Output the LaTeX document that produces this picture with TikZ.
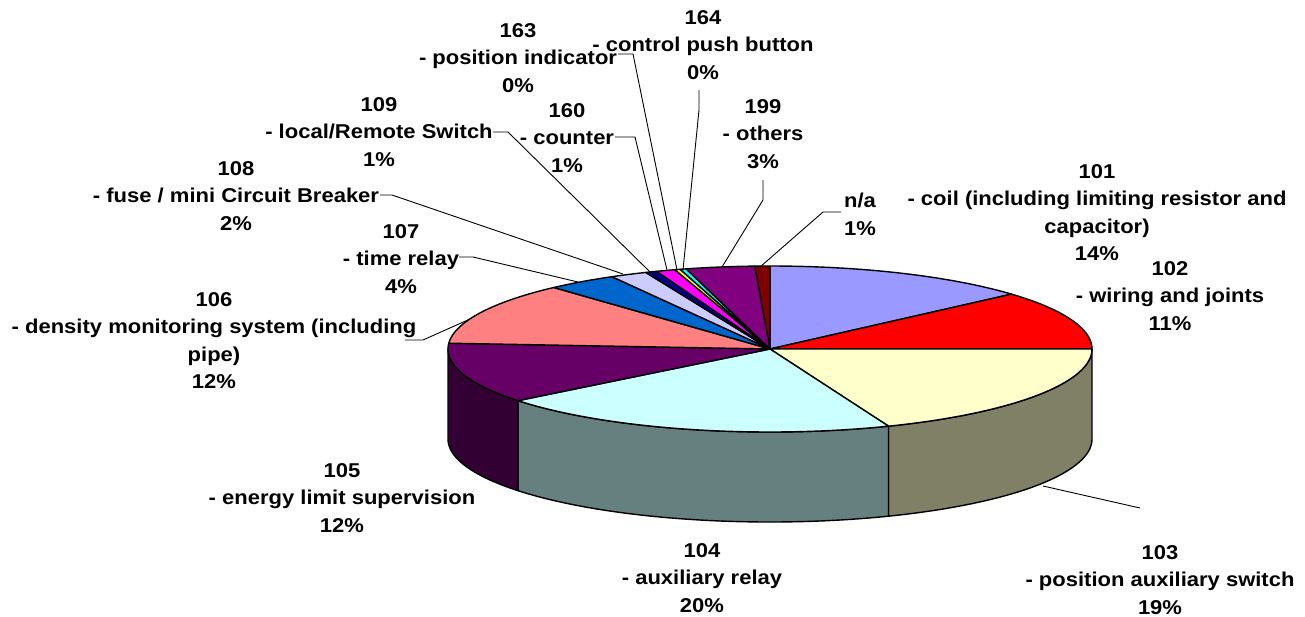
\documentclass[tikz,border=0pt]{standalone}
\usepackage{fontspec}
\setmainfont{Liberation Sans}
\usepackage{graphicx}
\definecolor{c101}{HTML}{9999FF}
\definecolor{c102}{HTML}{FF0000}
\definecolor{c103}{HTML}{FFFFCC}
\definecolor{s103}{HTML}{808066}
\definecolor{c104}{HTML}{CCFFFF}
\definecolor{s104}{HTML}{668080}
\definecolor{c105}{HTML}{660066}
\definecolor{s105}{HTML}{330033}
\definecolor{c106}{HTML}{FF8080}
\definecolor{c107}{HTML}{0066CC}
\definecolor{c108}{HTML}{CCCCFF}
\definecolor{c109}{HTML}{000080}
\definecolor{c160}{HTML}{FF00FF}
\definecolor{c163}{HTML}{FFFF00}
\definecolor{c164}{HTML}{00FFFF}
\definecolor{c199}{HTML}{800080}
\definecolor{cna}{HTML}{800000}
\newcommand\pieslice[3]{\filldraw[slicestyle,fill=#3] (770,349) -- plot[variable=\t,domain=#1:#2,samples=50] ({770+322*sin(\t)},{349-83*cos(\t)}) -- cycle;}
\newcommand\piewall[3]{\filldraw[slicestyle,fill=#3] plot[variable=\t,domain=#1:#2,samples=60] ({770+322*sin(\t)},{349-83*cos(\t)}) -- plot[variable=\t,domain=-#2:-#1,samples=60] ({770+322*sin(-\t)},{439-83*cos(-\t)}) -- cycle;}
\newcommand\lbl[1]{\scalebox{1.1}[1]{\begin{tabular}{@{}c@{}}#1\end{tabular}}}
\begin{document}
\begin{tikzpicture}[x=1pt,y=-1pt,
  slicestyle/.style={draw=black,line width=1.4pt,line join=round},
  lab/.style={font=\bfseries\fontsize{20}{27.5}\selectfont,inner sep=0pt,outer sep=0pt},
  leader/.style={draw=black,line width=0.9pt}]
\useasboundingbox[fill=white] (0,0) rectangle (1305,616);
% walls
\piewall{90}{158.4}{s103}
\piewall{158.4}{231.5}{s104}
\piewall{231.5}{270}{s105}
% top
\pieslice{0}{48.6}{c101}
\pieslice{48.6}{90}{c102}
\pieslice{90}{158.4}{c103}
\pieslice{158.4}{231.5}{c104}
\pieslice{231.5}{274}{c105}
\pieslice{274}{317.8}{c106}
\pieslice{317.8}{330.6}{c107}
\pieslice{330.6}{337.3}{c108}
\pieslice{337.3}{339.4}{c109}
\pieslice{339.4}{342.8}{c160}
\pieslice{342.8}{343.8}{c163}
\pieslice{343.8}{344.9}{c164}
\pieslice{344.9}{357.3}{c199}
\pieslice{357.3}{360}{cna}
% labels
\node[lab] (l101) at (1097,214) {\lbl{101\\- coil (including limiting resistor and\\capacitor)\\14\%}};
\node[lab] (l102) at (1170,297) {\lbl{102\\- wiring and joints\\11\%}};
\node[lab] (l103) at (1160,581) {\lbl{103\\- position auxiliary switch\\19\%}};
\node[lab] (l104) at (702,579) {\lbl{104\\- auxiliary relay\\20\%}};
\node[lab] (l105) at (342,499) {\lbl{105\\- energy limit supervision\\12\%}};
\node[lab] (l106) at (214,342) {\lbl{106\\- density monitoring system (including\\pipe)\\12\%}};
\node[lab] (l107) at (401,260) {\lbl{107\\- time relay\\4\%}};
\node[lab] (l108) at (236,197) {\lbl{108\\- fuse / mini Circuit Breaker\\2\%}};
\node[lab] (l109) at (379,133) {\lbl{109\\- local/Remote Switch\\1\%}};
\node[lab] (l160) at (567,139) {\lbl{160\\- counter\\1\%}};
\node[lab] (l163) at (518,59) {\lbl{163\\- position indicator\\0\%}};
\node[lab] (l164) at (703,46) {\lbl{164\\- control push button\\0\%}};
\node[lab] (l199) at (763,135) {\lbl{199\\- others\\3\%}};
\node[lab] (lna) at (860,216) {\lbl{n/a\\1\%}};
% leader coordinates
\coordinate (a164) at (699,90);  \coordinate (b164) at (699,110); \coordinate (p164) at (683,270);
\coordinate (a163) at (618,54);  \coordinate (b163) at (633,54);  \coordinate (p163) at (677,270);
\coordinate (a160) at (615,137); \coordinate (b160) at (635,137); \coordinate (p160) at (667,270);
\coordinate (a109) at (493,132); \coordinate (b109) at (508,132); \coordinate (p109) at (650,272);
\coordinate (a108) at (380,195); \coordinate (b108) at (392,195); \coordinate (p108) at (623,274);
\coordinate (a107) at (459,257); \coordinate (b107) at (473,257); \coordinate (p107) at (578,282);
\coordinate (a106) at (405,340); \coordinate (b106) at (423,340); \coordinate (p106) at (470,319);
\coordinate (a199) at (763,180); \coordinate (b199) at (763,200); \coordinate (p199) at (722,267);
\coordinate (ana) at (841,212);  \coordinate (bna) at (823,212);  \coordinate (pna) at (760,267);
\coordinate (p103) at (1043,486); \coordinate (a103) at (1140,508);
\draw[leader] (a164) -- (b164) -- (p164);
\draw[leader] (a163) -- (b163) -- (p163);
\draw[leader] (a160) -- (b160) -- (p160);
\draw[leader] (a109) -- (b109) -- (p109);
\draw[leader] (a108) -- (b108) -- (p108);
\draw[leader] (a107) -- (b107) -- (p107);
\draw[leader] (a106) -- (b106) -- (p106);
\draw[leader] (a199) -- (b199) -- (p199);
\draw[leader] (ana) -- (bna) -- (pna);
\draw[leader] (p103) -- (a103);
\end{tikzpicture}
\end{document}
